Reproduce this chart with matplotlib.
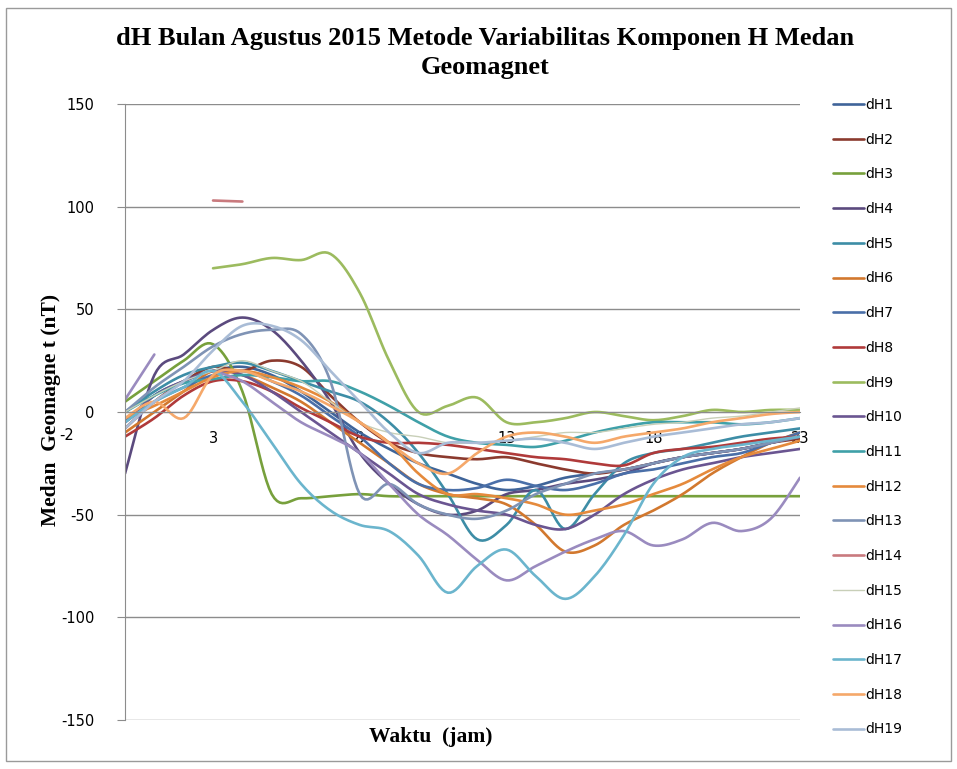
import numpy as np
import matplotlib.pyplot as plt
from matplotlib.patches import Rectangle

nan = np.nan

# jam 0..23
hours = list(range(24))
x_tick_pos = [3, 8, 13, 18, 23]
x_tick_labels = ["3", "8", "13", "18", "23"]
y_ticks = [-150, -100, -50, 0, 50, 100, 150]

# nilai dH tiap jam
dH1 = [-5, 8, 15, 20, 22, 18, 10, 0, -10, -18, -25, -30, -35, -38, -36, -32, -30, -28, -25, -22, -20, -18, -15, -12]
dH2 = [-8, 5, 15, 22, 20, 25, 22, 8, -5, -15, -20, -22, -23, -22, -25, -28, -30, -28, -25, -22, -20, -18, -15, -13]
dH3 = [5, 15, 25, 33, 10, -40, -42, -41, -40, -41, -41, -41, -41, -41, -41, -41, -41, -41, -41, -41, -41, -41, -41, -41]
dH4 = [-30, 18, 28, 40, 46, 40, 25, 5, -20, -35, -45, -50, -48, -40, -38, -35, -33, -30, -25, -22, -20, -18, -15, -12]
dH5 = [0, 10, 18, 22, 24, 20, 15, 10, 5, -5, -20, -40, -62, -55, -38, -57, -40, -25, -20, -18, -15, -12, -10, -8]
dH6 = [-10, 0, 10, 20, 18, 12, 5, -5, -15, -25, -35, -40, -42, -45, -55, -68, -65, -55, -48, -40, -30, -22, -15, -10]
dH7 = [-5, 5, 12, 18, 20, 15, 8, -2, -12, -25, -35, -38, -37, -33, -36, -38, -35, -30, -28, -25, -22, -20, -15, -10]
dH8 = [-12, -3, 8, 15, 15, 10, 2, -5, -12, -15, -15, -16, -18, -20, -22, -23, -25, -26, -20, -18, -17, -15, -13, -12]
dH9 = [nan, nan, nan, 70, 72, 75, 74, 77, 58, 25, 0, 3, 7, -5, -5, -3, 0, -2, -4, -2, 1, 0, 1, 1]
dH10 = [-5, 8, 15, 20, 18, 10, 0, -10, -20, -30, -40, -45, -48, -50, -55, -57, -50, -40, -33, -28, -25, -22, -20, -18]
dH11 = [0, 8, 14, 16, 18, 17, 15, 15, 10, 3, -5, -12, -15, -16, -17, -14, -10, -7, -5, -5, -5, -6, -5, -3]
dH12 = [-3, 3, 10, 17, 20, 17, 12, 5, -5, -15, -30, -40, -40, -42, -45, -50, -48, -45, -40, -35, -28, -22, -18, -14]
dH13 = [0, 12, 22, 32, 38, 40, 38, 15, -40, -35, -45, -50, -52, -48, -40, -35, -30, -28, -25, -22, -20, -18, -15, -12]
dH14 = [nan, nan, nan, 103, 102.5, nan, nan, nan, nan, nan, nan, nan, nan, nan, nan, nan, nan, nan, nan, nan, nan, nan, nan, nan]
dH15 = [0, 8, 15, 20, 25, 20, 15, 5, -5, -10, -12, -15, -15, -14, -12, -10, -10, -8, -6, -5, -3, -2, 0, 2]
dH16 = [6, 28, nan, 20, 15, 5, -5, -12, -20, -35, -50, -60, -72, -82, -75, -68, -62, -58, -65, -62, -54, -58, -52, -32]
dH17 = [-5, 5, 12, 20, 5, -15, -35, -48, -55, -58, -70, -88, -75, -67, -80, -91, -80, -60, -35, -22, -18, -16, -14, -12]
dH18 = [-3, 5, -3, 18, 20, 15, 10, 3, -5, -15, -25, -30, -20, -12, -10, -12, -15, -12, -10, -8, -5, -3, -1, 0]
dH19 = [-8, 5, 15, 30, 42, 42, 35, 20, 5, -10, -20, -15, -15, -14, -13, -15, -18, -15, -12, -10, -8, -6, -5, -3]

all_series = [dH1, dH2, dH3, dH4, dH5, dH6, dH7, dH8, dH9, dH10,
              dH11, dH12, dH13, dH14, dH15, dH16, dH17, dH18, dH19]
names = ["dH%d" % i for i in range(1, 20)]
colors = ["#3f6499", "#8b3a2e", "#77a03c", "#5b4a7e", "#3d8da6", "#d2782e",
          "#4a6fa8", "#b03a3a", "#9cbb5f", "#6a5591", "#3fa0a8", "#e58a3c",
          "#7f93b5", "#c97a7e", "#c8cfb8", "#9a8bbf", "#6bb5cd", "#f5a86a",
          "#a9bcd6"]


def smooth(x, y, n=12):
    # garis halus ala Excel (Catmull-Rom), putus di nilai kosong
    x = np.asarray(x, float)
    y = np.asarray(y, float)
    ok = ~np.isnan(y)
    xs_out, ys_out = [], []
    i = 0
    while i < len(y):
        if not ok[i]:
            i += 1
            continue
        j = i
        while j < len(y) and ok[j]:
            j += 1
        px, py = x[i:j], y[i:j]
        if len(px) >= 2:
            for k in range(len(px) - 1):
                k0 = max(k - 1, 0)
                k3 = min(k + 2, len(px) - 1)
                t = np.linspace(0, 1, n)
                for arr, out in ((px, xs_out), (py, ys_out)):
                    p0, p1, p2, p3 = arr[k0], arr[k], arr[k + 1], arr[k3]
                    seg = 0.5 * ((2 * p1) + (-p0 + p2) * t +
                                 (2 * p0 - 5 * p1 + 4 * p2 - p3) * t ** 2 +
                                 (-p0 + 3 * p1 - 3 * p2 + p3) * t ** 3)
                    out.extend(seg)
            xs_out.append(nan)
            ys_out.append(nan)
        i = j
    return np.array(xs_out), np.array(ys_out)


fig = plt.figure(figsize=(9.57, 7.69), dpi=100)
ax = fig.add_axes([125 / 957, 1 - 720 / 769, 675 / 957, 616 / 769])

for vals, name, c in zip(all_series, names, colors):
    xs, ys = smooth(hours, vals)
    lw = 1.0 if name == "dH15" else 1.9
    ax.plot(xs, ys, color=c, lw=lw, label=name, solid_capstyle="round")

ax.set_xlim(0, 23)
ax.set_ylim(-150, 150)
ax.set_yticks(y_ticks)
ax.set_yticklabels([str(v) for v in y_ticks])
ax.grid(axis="y", color="#8c8c8c", lw=1)
ax.set_axisbelow(True)
ax.set_xticks(x_tick_pos)
ax.set_xticklabels(x_tick_labels)

for s in ["top", "right"]:
    ax.spines[s].set_visible(False)
ax.spines["left"].set_color("#8c8c8c")
ax.spines["bottom"].set_position(("data", 0))
ax.spines["bottom"].set_color("#8c8c8c")
ax.tick_params(axis="y", length=6, color="#8c8c8c", pad=16, labelsize=10.5)
ax.tick_params(axis="x", length=0, pad=14, labelsize=10.5)
ax.text(-2, -8, "-2", transform=ax.transData, ha="center", va="top",
        fontsize=10.5, clip_on=False)

fig.text(0.507, 0.931, "dH Bulan Agustus 2015 Metode Variabilitas Komponen H Medan\nGeomagnet",
         ha="center", va="center", fontsize=19, fontweight="bold",
         family="Liberation Serif", linespacing=1.3)
fig.text(0.053, 0.467, "Medan  Geomagne t (nT)", rotation=90, ha="center", va="center",
         fontsize=15.5, fontweight="bold", family="Liberation Serif")
fig.text(0.45, 0.042, "Waktu  (jam)", ha="center", va="center",
         fontsize=15.5, fontweight="bold", family="Liberation Serif")

ax.legend(loc="upper left", bbox_to_anchor=(826 / 957, 1 - 91 / 769),
          bbox_transform=fig.transFigure, frameon=False, fontsize=10,
          handlelength=2.2, handletextpad=0.15, labelspacing=1.49, borderpad=0)

fig.patches.append(Rectangle((0.006, 0.011), 0.988, 0.979, transform=fig.transFigure,
                             fill=False, edgecolor="#9a9a9a", lw=1))

fig.savefig("out.png", dpi=100)
